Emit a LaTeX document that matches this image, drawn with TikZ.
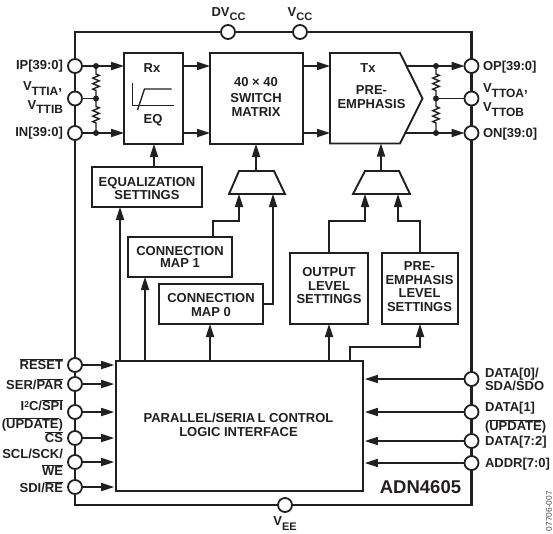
\documentclass[tikz,border=0pt]{standalone}
\usepackage{fontspec}
\setmainfont{Liberation Sans}
\usetikzlibrary{arrows.meta,decorations.pathmorphing}
\definecolor{ink}{HTML}{231F20}
\newcommand{\ol}[1]{$\overline{\hbox{#1}}$}
\newcommand{\sbs}[1]{\raisebox{-4.5pt}{\fontsize{11}{11}\selectfont #1}}
\newcommand{\sbt}[1]{\raisebox{-4.5pt}{\fontsize{12}{12}\selectfont #1}}
\tikzset{
  x=1pt,y=-1pt,
  every node/.style={inner sep=0pt,outer sep=0pt,font=\bfseries\fontsize{13}{13}\selectfont,text=ink},
  frame/.style={line width=2.4pt,draw=ink},
  block/.style={line width=1.9pt,draw=ink,fill=white,miter limit=10},
  wire/.style={line width=1.7pt,draw=ink},
  sig/.style={line width=1.7pt,draw=ink,-{Triangle[length=13pt,width=8pt]}},
  ctlin/.style={sig,shorten >=1.8pt},
  upsig/.style={line width=1.7pt,draw=ink,-{Triangle[length=13pt,width=8pt]}},
  pin/.style={circle,draw=ink,fill=white,line width=1.8pt,minimum size=14pt},
  dotj/.style={circle,fill=ink,minimum size=6pt},
  res/.style={line width=1.4pt,draw=ink,decorate,decoration={zigzag,segment length=5.5pt,amplitude=3.2pt,pre length=8pt,post length=8pt}},
  lab/.style={text height=9.4pt,text depth=0pt},
  rlab/.style={lab,anchor=west},
  llab/.style={lab,anchor=east},
}
\begin{document}
\begin{tikzpicture}
\useasboundingbox (0,0) rectangle (553,533);
% outer frame
\draw[frame] (75,32) rectangle (471.5,505);
% pins
\node[pin] (dvcc) at (228,32) {};
\node[pin] (vcc) at (300,32) {};
\node[pin] (vee) at (285,505) {};
\node[pin] (ip) at (75,66) {};
\node[pin] (vtti) at (75,98.5) {};
\node[pin] (in) at (75,133) {};
\node[pin] (reset) at (75,365) {};
\node[pin] (ser) at (75,384) {};
\node[pin] (i2c) at (75,412) {};
\node[pin] (cs) at (75,438) {};
\node[pin] (scl) at (75,462) {};
\node[pin] (sdi) at (75,487) {};
\node[pin] (op) at (471.5,66) {};
\node[pin] (vtto) at (471.5,98.5) {};
\node[pin] (on) at (471.5,133) {};
\node[pin] (d0) at (471.5,379) {};
\node[pin] (d1) at (471.5,412) {};
\node[pin] (d72) at (471.5,441) {};
\node[pin] (addr) at (471.5,463) {};
% pin labels
\node[lab] (tdvcc) at (228.5,11.7) {DV\sbs{CC}};
\node[lab] (tvcc) at (300,11.7) {V\sbs{CC}};
\node[lab] (tvee) at (285,521) {V\sbs{EE}};
\node[llab] (tip) at (63,65) {IP[39:0]};
\node[llab] (tvtia) at (62,86) {V\sbt{TTIA},};
\node[llab] (tvtib) at (63,104.5) {V\sbt{TTIB}};
\node[llab] (tin) at (63,132) {IN[39:0]};
\node[llab] (treset) at (63,365) {\ol{RESET}};
\node[llab] (tser) at (63,385) {SER/\ol{PAR}};
\node[llab] (ti2c) at (63,405.7) {I\raisebox{3pt}{\fontsize{8.5}{8.5}\selectfont 2}C/\ol{SPI}};
\node[llab] (tupd) at (63,424) {(\ol{UPDATE})};
\node[llab] (tcs) at (63,438) {\ol{CS}};
\node[llab] (tscl) at (63,454) {SCL/SCK/};
\node[llab] (twe) at (63,470.5) {\ol{WE}};
\node[llab] (tsdi) at (63,488) {SDI/\ol{RE}};
\node[rlab] (top) at (483,66) {OP[39:0]};
\node[rlab] (tvtoa) at (483,88) {V\sbt{TTOA},};
\node[rlab] (tvtob) at (483,107) {V\sbt{TTOB}};
\node[rlab] (ton) at (483,133) {ON[39:0]};
\node[rlab] (td0) at (485,373) {DATA[0]/};
\node[rlab] (tsda) at (485,385.7) {SDA/SDO};
\node[rlab] (td1) at (485,406.7) {DATA[1]};
\node[rlab] (tupd2) at (485,425.5) {(\ol{UPDATE})};
\node[rlab] (td72) at (485,441) {DATA[7:2]};
\node[rlab] (taddr) at (485,463) {ADDR[7:0]};
\node[font=\bfseries\fontsize{18.5}{20}\selectfont] (tname) at (420.5,487.5) {ADN4605};
\node[rotate=90,font=\fontsize{8.4}{9}\selectfont,text=ink!80,anchor=east] (tcode) at (549,491) {07706-007};
% blocks
\draw[block] (124,53) rectangle (183,144);
\coordinate (rxL1) at (124,66); \coordinate (rxL2) at (124,133);
\coordinate (rxR1) at (183,66); \coordinate (rxR2) at (183,133);
\coordinate (rxB) at (154,144);
\draw[block] (210,53) rectangle (303,144);
\coordinate (swL1) at (210,66); \coordinate (swL2) at (210,133);
\coordinate (swR1) at (303,66); \coordinate (swR2) at (303,133);
\coordinate (swB) at (256,144);
\draw[block] (330,53) -- (400,53) -- (422.5,98.5) -- (400,143.5) -- (330,143.5) -- cycle;
\coordinate (txL1) at (330,66); \coordinate (txL2) at (330,133);
\coordinate (txR1) at (406,66); \coordinate (txR2) at (406,133);
\coordinate (txB) at (381,143.5);
\node[lab] (trx) at (152,68) {Rx};
\node[lab] (teq) at (153,119) {EQ};
\node[lab] (tsw1) at (256,82) {40 × 40};
\node[lab] (tsw2) at (256,97.5) {SWITCH};
\node[lab] (tsw3) at (256,112) {MATRIX};
\node[lab] (ttx) at (368,68) {Tx};
\node[lab] (tpe1) at (371.5,90) {PRE-};
\node[lab] (tpe2) at (371.5,104) {EMPHASIS};
% EQ glyph
\draw[line width=1.4pt,draw=ink] (132.5,83) -- (132.5,105.5) -- (173.5,105.5);
\draw[line width=1.4pt,draw=ink] (137.5,110) -- (144.5,89) -- (171.5,89);
% settings
\node[block,minimum width=110pt,minimum height=40pt] (eqs) at (147,187) {};
\node[lab] (teqs1) at (147,182) {EQUALIZATION};
\node[lab] (teqs2) at (147,194.5) {SETTINGS};
\node[block,minimum width=104pt,minimum height=40pt] (map1) at (180,257) {};
\node[lab] (tm11) at (180,250.7) {CONNECTION};
\node[lab] (tm12) at (180,263) {MAP 1};
\node[block,minimum width=104pt,minimum height=40pt] (map0) at (211,304) {};
\node[lab] (tm01) at (211,297.7) {CONNECTION};
\node[lab] (tm02) at (211,312) {MAP 0};
\node[block,minimum width=78pt,minimum height=71pt] (outs) at (329,288.5) {};
\node[lab] (tou1) at (329,272) {OUTPUT};
\node[lab] (tou2) at (329,285.5) {LEVEL};
\node[lab] (tou3) at (329,299) {SETTINGS};
\node[block,minimum width=76pt,minimum height=71pt] (pres) at (420,288.5) {};
\node[lab] (tpr1) at (419.5,266) {PRE-};
\node[lab] (tpr2) at (419.5,279.5) {EMPHASIS};
\node[lab] (tpr3) at (419.5,293) {LEVEL};
\node[lab] (tpr4) at (419.5,306.5) {SETTINGS};
\node[block,minimum width=247pt,minimum height=130pt] (ctl) at (239.5,426) {};
\node[lab] (tctl1) at (238.5,417.5) {PARALLEL/SERIA\,L CONTROL};
\node[lab] (tctl2) at (238.5,432) {LOGIC INTERFACE};
% muxes
\draw[block] (239,171) -- (274,171) -- (285,194) -- (229,194) -- cycle;
\draw[block] (365,171) -- (399,171) -- (410,194) -- (353,194) -- cycle;
\coordinate (m1T) at (256,171); \coordinate (m1A) at (239,194); \coordinate (m1B) at (273,194);
\coordinate (m2T) at (381,171); \coordinate (m2A) at (365,194); \coordinate (m2B) at (398,194);
% helper coordinates
\coordinate (x120) at (120,0); \coordinate (x145) at (145,0);
\coordinate (x210) at (210,0); \coordinate (x329) at (329,0);
\coordinate (x350) at (350,0); \coordinate (x213) at (213,0);
\coordinate (y221) at (0,221); \coordinate (y347) at (0,347);
% top signal wires
\draw[sig] (ip) -- (rxL1);
\draw[sig] (in) -- (rxL2);
\draw[sig] (rxR1) -- (swL1);
\draw[sig] (rxR2) -- (swL2);
\draw[sig] (swR1) -- (txL1);
\draw[sig] (swR2) -- (txL2);
\draw[sig] (txR1) -- (op);
\draw[sig] (txR2) -- (on);
\coordinate (jl) at (96,98.5); \coordinate (jr) at (436,98.5);
\draw[wire] (vtti) -- (jl);
\draw[wire] (vtto) -- (jr);
\coordinate (jl1) at (96,66); \coordinate (jl2) at (96,133);
\coordinate (jr1) at (436,66); \coordinate (jr2) at (436,133);
\draw[res] (jl1) -- (jl);
\draw[res] (jl) -- (jl2);
\draw[res] (jr1) -- (jr);
\draw[res] (jr) -- (jr2);
\foreach \c in {jl1,jl,jl2,jr1,jr,jr2} \node[dotj] at (\c) {};
% vertical signal arrows
\draw[upsig] (eqs.north -| rxB) -- (rxB);
\draw[upsig] (m1T) -- (swB);
\draw[upsig] (m2T) -- (txB);
\draw[upsig] (ctl.north -| x120) -- (eqs.south -| x120);
\draw[upsig] (ctl.north -| x145) -- (map1.south -| x145);
\draw[upsig] (ctl.north -| x210) -- (map0.south -| x210);
\draw[upsig] (ctl.north -| x329) -- (outs.south -| x329);
\draw[upsig] (ctl.north -| x350) -- (y347 -| x350) -- (y347 -| pres.south) -- (pres.south);
\draw[upsig] (map1.north -| x213) -- (y221 -| x213) -- (y221 -| m1A) -- (m1A);
\draw[upsig] (map0.east) -- (map0.east -| m1B) -- (m1B);
\draw[upsig] (outs.north) -- (y221 -| outs.north) -- (y221 -| m2A) -- (m2A);
\draw[upsig] (pres.north) -- (y221 -| pres.north) -- (y221 -| m2B) -- (m2B);
% control inputs
\foreach \p in {reset,ser,i2c,cs,scl,sdi}
  \draw[ctlin] (\p) -- (\p -| ctl.west);
\foreach \p in {d0,d1,d72,addr}
  \draw[ctlin] (\p) -- (\p -| ctl.east);
\end{tikzpicture}
\end{document}
